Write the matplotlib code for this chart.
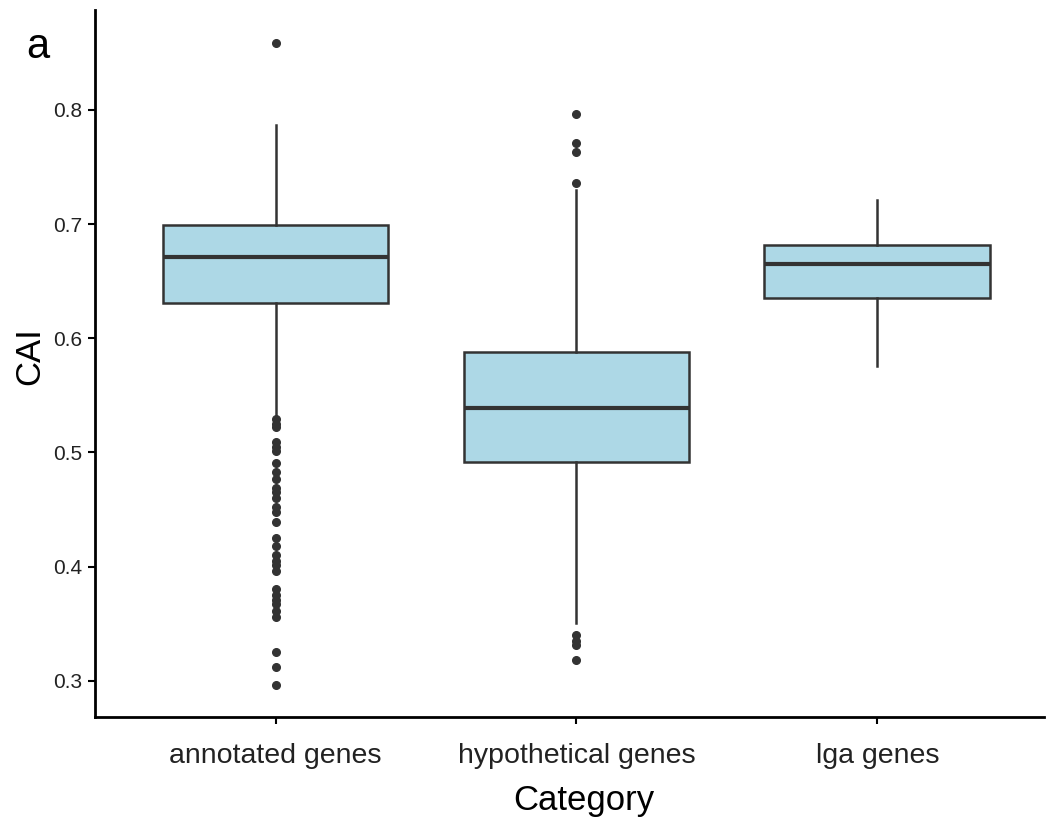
import matplotlib
matplotlib.use("Agg")
import matplotlib.pyplot as plt

plt.rcParams['font.family'] = ['Liberation Sans', 'DejaVu Sans']

categories = ['annotated genes', 'hypothetical genes', 'lga genes']
q1 = [0.631, 0.492, 0.635]
med = [0.671, 0.539, 0.665]
q3 = [0.699, 0.588, 0.682]
whislo = [0.530, 0.351, 0.576]
whishi = [0.787, 0.730, 0.721]
fliers = [
    [0.859, 0.529, 0.525, 0.522, 0.509, 0.505, 0.501, 0.491, 0.483, 0.477,
     0.469, 0.465, 0.460, 0.452, 0.448, 0.439, 0.425, 0.418, 0.410, 0.405,
     0.401, 0.396, 0.380, 0.375, 0.371, 0.367, 0.361, 0.356, 0.325, 0.312,
     0.296],
    [0.796, 0.771, 0.763, 0.736, 0.340, 0.335, 0.331, 0.318],
    [],
]

stats = []
for i in range(len(categories)):
    stats.append({'label': categories[i], 'q1': q1[i], 'med': med[i], 'q3': q3[i],
                  'whislo': whislo[i], 'whishi': whishi[i], 'fliers': fliers[i]})

fig = plt.figure(figsize=(10.5, 8.22), dpi=100)
ax = fig.add_axes([0.0905, 0.128, 0.904, 0.86])

dark = '#333333'
ax.bxp(stats, positions=[1, 2, 3], widths=0.75, patch_artist=True, showcaps=False,
       boxprops=dict(facecolor='#ADD8E6', edgecolor=dark, linewidth=1.8),
       medianprops=dict(color=dark, linewidth=3),
       whiskerprops=dict(color=dark, linewidth=1.8),
       flierprops=dict(marker='o', markerfacecolor=dark, markeredgecolor=dark,
                       markersize=5.5, linestyle='none'))

ax.set_xlim(0.4, 3.555)
ax.set_ylim(0.2685, 0.8876)
ax.set_yticks([0.3, 0.4, 0.5, 0.6, 0.7, 0.8])
ax.set_yticklabels(['0.3', '0.4', '0.5', '0.6', '0.7', '0.8'])
ax.set_xticks([1, 2, 3])
ax.set_xticklabels(categories)

for s in ['top', 'right']:
    ax.spines[s].set_visible(False)
for s in ['left', 'bottom']:
    ax.spines[s].set_linewidth(2)
    ax.spines[s].set_color('black')

ax.tick_params(axis='y', labelsize=15, length=5, width=1.5, colors='black', labelcolor='#222222', pad=4)
ax.tick_params(axis='x', labelsize=20.5, length=5, width=1.5, colors='black', labelcolor='#222222', pad=14)

ax.set_xlabel('Category', fontsize=25, labelpad=11)
ax.xaxis.label.set_x(0.515)
ax.set_ylabel('CAI', fontsize=25, labelpad=5)
ax.yaxis.label.set_y(0.51)

fig.text(0.025, 0.93, 'a', fontsize=30)

fig.savefig('out.png', dpi=100)
